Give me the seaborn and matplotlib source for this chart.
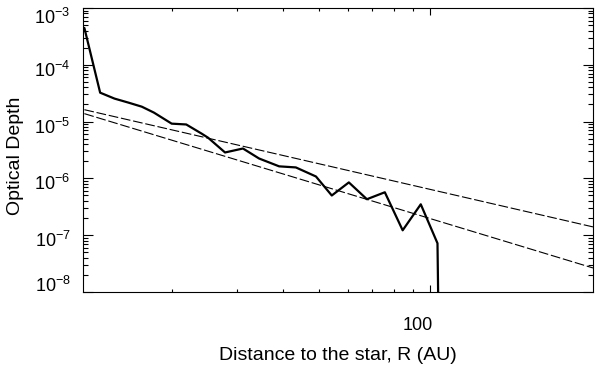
import matplotlib
matplotlib.use("Agg")
import matplotlib.pyplot as plt
import matplotlib.ticker as mticker
import matplotlib.transforms as mtrans
import seaborn as sns
import pandas as pd

r_obs = [11.6, 12.8, 14.0, 15.3, 16.6, 17.9, 20.0, 21.9, 24.1, 25.1, 27.9, 31.2,
         34.5, 39.1, 43.4, 49.2, 54.3, 60.4, 67.6, 75.6, 84.5, 94.6, 105.0, 106.4]
tau_obs = [4.46e-4, 3.23e-5, 2.54e-5, 2.15e-5, 1.83e-5, 1.44e-5, 9.2e-6, 8.9e-6,
           6.15e-6, 5.2e-6, 2.86e-6, 3.36e-6, 2.24e-6, 1.63e-6, 1.56e-6, 1.08e-6,
           5.0e-7, 8.5e-7, 4.3e-7, 5.7e-7, 1.22e-7, 3.5e-7, 7.2e-8, 1e-10]

# Power-law reference lines (end points)
r_fit = [11.6, 277.0]
tau_fit_a = [1.62e-5, 1.40e-7]   # ~ R^-1.5
tau_fit_b = [1.38e-5, 2.65e-8]   # ~ R^-2

x_minor = [20, 30, 40, 50, 60, 70, 80, 90]

sns.set_style("white")
plt.rcParams['font.family'] = ['Liberation Sans', 'DejaVu Sans']
plt.rcParams['lines.scale_dashes'] = False
plt.rcParams['text.color'] = 'black'
plt.rcParams['axes.labelcolor'] = 'black'

df_obs = pd.DataFrame({'R': r_obs, 'tau': tau_obs})
df_a = pd.DataFrame({'R': r_fit, 'tau': tau_fit_a})
df_b = pd.DataFrame({'R': r_fit, 'tau': tau_fit_b})

fig = plt.figure(figsize=(6, 3.7), dpi=100)
ax = fig.add_axes([0.1383, 0.2108, 0.85, 0.7676])

sns.lineplot(data=df_obs, x='R', y='tau', ax=ax, color='black', lw=1.6,
             sort=False, estimator=None)
for d in (df_a, df_b):
    sns.lineplot(data=d, x='R', y='tau', ax=ax, color='black', lw=0.8,
                 sort=False, estimator=None)
    ax.lines[-1].set_dashes((7, 2))

ax.set_xscale('log')
ax.set_yscale('log')
ax.set_xlim(11.5, 277)
ax.set_ylim(1e-8, 1e-3)

ax.xaxis.set_major_locator(mticker.FixedLocator([100]))
ax.xaxis.set_major_formatter(mticker.FixedFormatter(['100']))
ax.xaxis.set_minor_locator(mticker.FixedLocator(x_minor))
ax.xaxis.set_minor_formatter(mticker.NullFormatter())
ax.yaxis.set_major_locator(mticker.LogLocator(base=10, numticks=10))
ax.yaxis.set_minor_locator(mticker.LogLocator(base=10, subs=range(2, 10), numticks=10))
ax.yaxis.set_minor_formatter(mticker.NullFormatter())

ax.tick_params(axis='x', which='major', direction='in', length=5, width=0.8,
               top=True, bottom=True, pad=18, labelsize=13, colors='black')
ax.tick_params(axis='x', which='minor', direction='in', length=2.5, width=0.8,
               top=True, bottom=True, colors='black')
ax.tick_params(axis='y', which='major', direction='in', length=7.5, width=0.8,
               left=True, right=True, pad=9, labelsize=13, colors='black')
ax.tick_params(axis='y', which='minor', direction='in', length=3.5, width=0.8,
               left=True, right=True, colors='black')

# IDL-style label offsets
fig.canvas.draw()
for lab in ax.get_xticklabels():
    lab.set_transform(lab.get_transform() + mtrans.ScaledTranslation(-12 / 100, 0, fig.dpi_scale_trans))
for lab in ax.get_yticklabels():
    yv = lab.get_position()[1]
    if yv <= 1.0001e-8:
        dy = 8
    elif yv >= 0.9999e-3:
        dy = -8
    else:
        dy = -4
    lab.set_transform(lab.get_transform() + mtrans.ScaledTranslation(0, dy / 100, fig.dpi_scale_trans))

for sp in ax.spines.values():
    sp.set_color('black')
    sp.set_linewidth(0.8)

ax.set_xlabel('Distance to the star, R (AU)', fontsize=14, labelpad=9, color='black')
ax.set_ylabel('Optical Depth', fontsize=14, color='black')
ax.yaxis.set_label_coords(-0.115, 0.48)

fig.savefig('out.png', dpi=100, facecolor='white')
